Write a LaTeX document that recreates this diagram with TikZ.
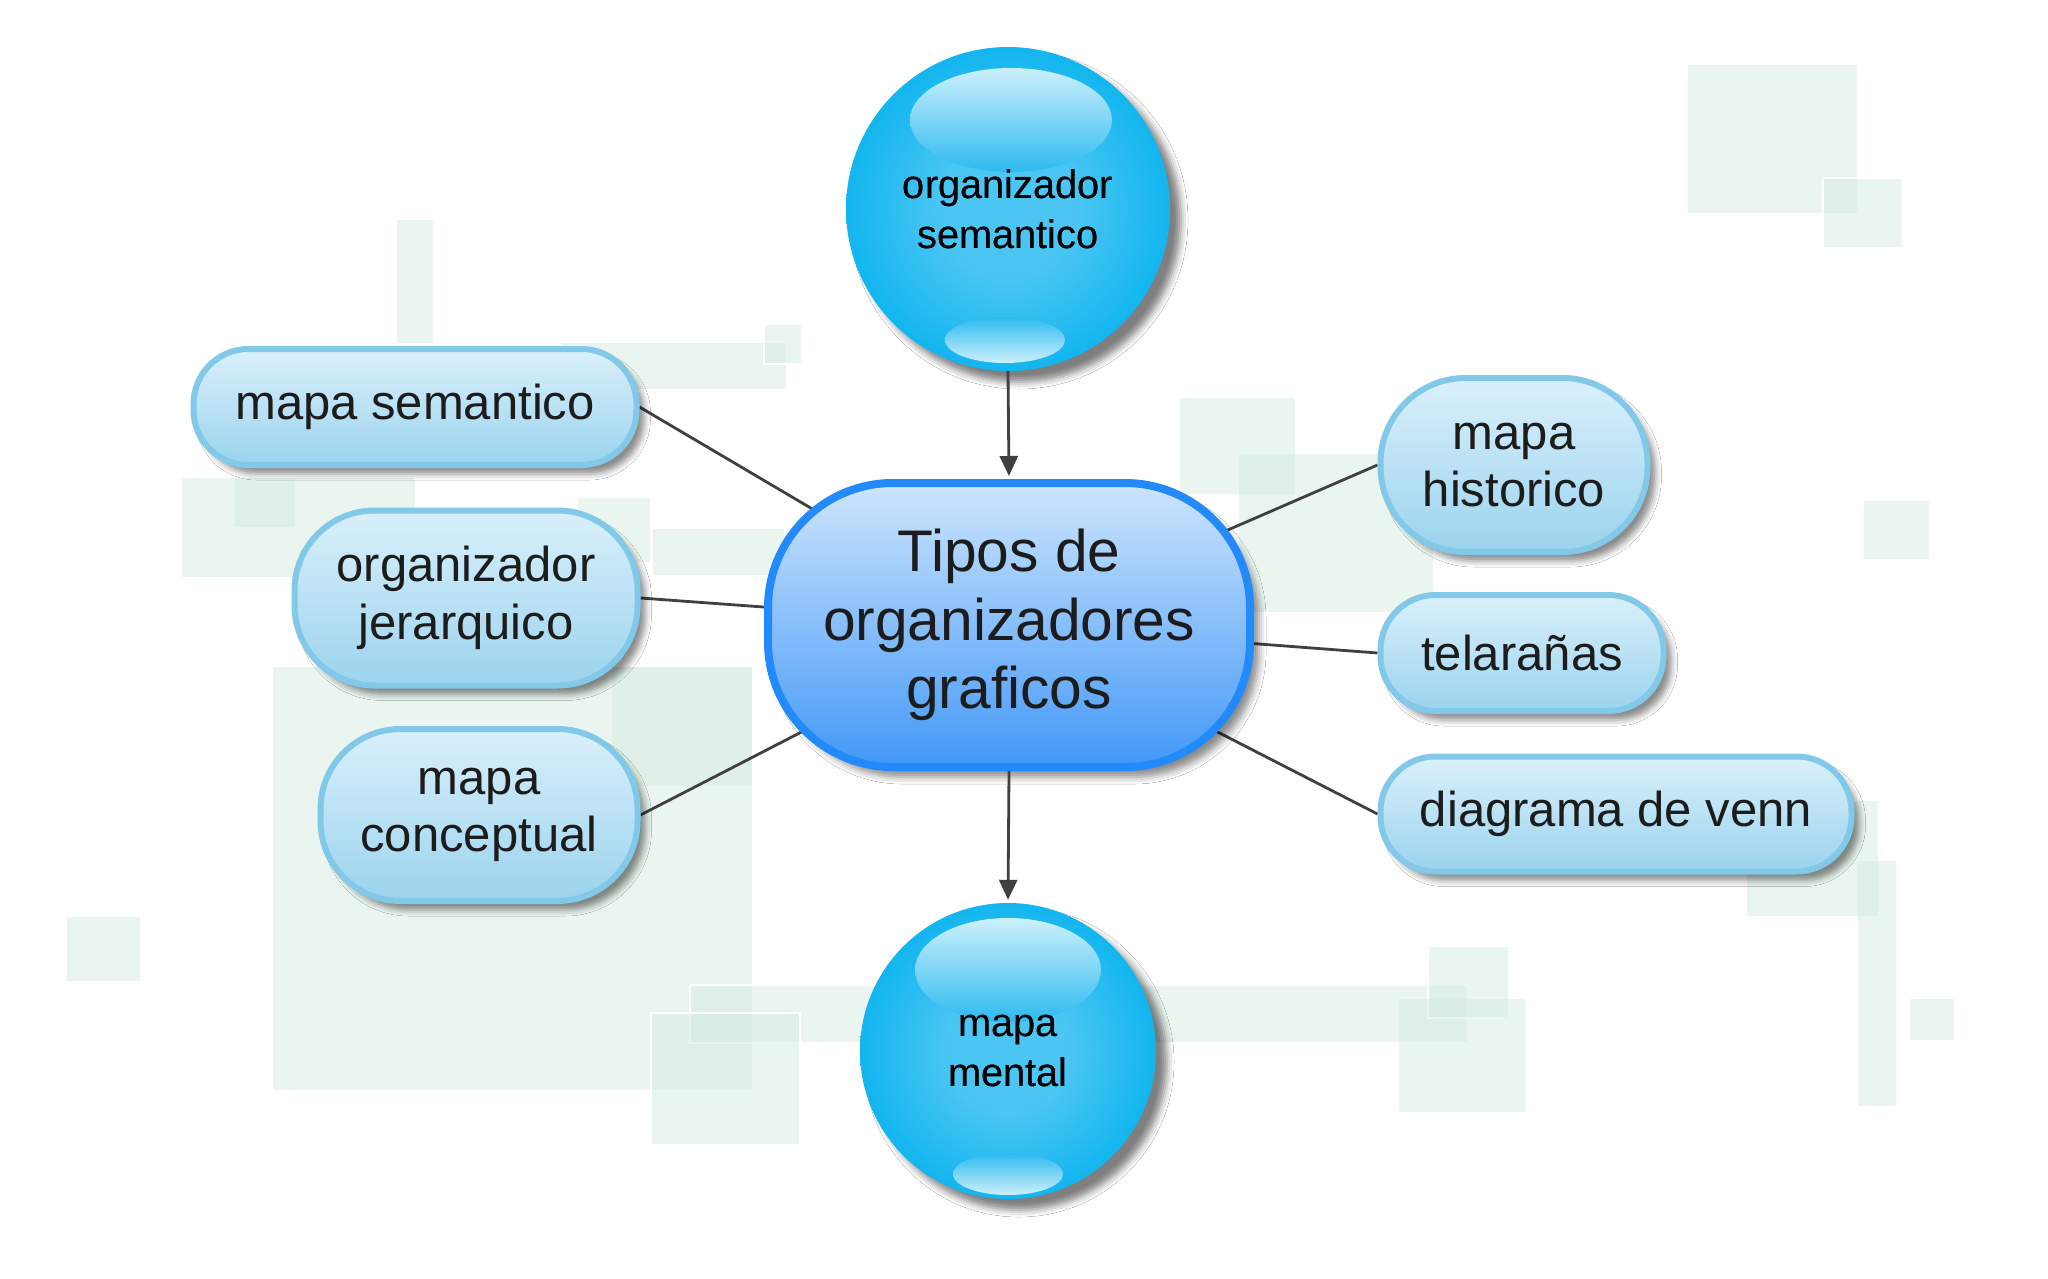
\documentclass[tikz,border=0pt]{standalone}
\usepackage{fontspec}
\setmainfont{Liberation Sans}
\usetikzlibrary{shadows.blur,arrows.meta,calc}
\pgfdeclarelayer{bgsq}
\pgfdeclarelayer{edges}
\pgfsetlayers{bgsq,edges,main}
\definecolor{sq}{RGB}{213,235,222}
\definecolor{cyanout}{RGB}{0,160,230}
\definecolor{cyanmid}{RGB}{0,176,238}
\definecolor{cyanin}{RGB}{75,198,243}
\definecolor{pillborder}{RGB}{130,200,233}
\definecolor{pilltop}{RGB}{218,240,251}
\definecolor{pillbot}{RGB}{155,211,238}
\definecolor{cborder}{RGB}{34,138,250}
\definecolor{ctop}{RGB}{205,229,253}
\definecolor{cbot}{RGB}{66,152,248}
\definecolor{edgecol}{RGB}{64,64,64}
\definecolor{txt}{RGB}{28,28,28}
\definecolor{hltop}{RGB}{205,240,253}
\definecolor{hlbot}{RGB}{45,186,240}
\pgfdeclareradialshading{ballshade}{\pgfpoint{0bp}{0bp}}{color(0bp)=(cyanin); color(10bp)=(cyanin); color(30bp)=(cyanmid); color(50bp)=(cyanout); color(100bp)=(cyanout)}
\tikzset{
  pill/.style={draw=pillborder, line width=6pt, top color=pilltop, bottom color=pillbot,
    inner sep=0pt, align=center, text=txt, font=\fontsize{49}{57.5}\selectfont,
    blur shadow={shadow xshift=8pt, shadow yshift=-9pt, shadow blur radius=6pt, shadow opacity=45}},
  ball/.style={circle, shading=ballshade, inner sep=0pt, text=black, align=center,
    font=\fontsize{39.8}{49.6}\selectfont,
    blur shadow={shadow xshift=11pt, shadow yshift=-11pt, shadow blur radius=7pt, shadow opacity=50}},
  cnode/.style={draw=cborder, line width=8pt, top color=ctop, bottom color=cbot,
    rounded corners=125pt, inner sep=0pt, align=center, text=txt,
    font=\fontsize{58.7}{68.6}\selectfont,
    blur shadow={shadow xshift=9pt, shadow yshift=-10pt, shadow blur radius=7pt, shadow opacity=45}},
  conn/.style={draw=edgecol, line width=2.8pt},
  arr/.style={draw=edgecol, line width=2.8pt, -{Triangle[width=18pt,length=20pt]}, shorten >=3pt},
  bsq/.style={fill=sq, fill opacity=0.48},
  bsqo/.style={fill=sq, fill opacity=0.48, draw=white, line width=2.5pt},
  hlup/.style={top color=hltop, bottom color=hlbot},
  hldown/.style={top color=hlbot, bottom color=hltop}
}
\begin{document}
\begin{tikzpicture}[x=1pt,y=-1pt]
\useasboundingbox (0,0) rectangle (2048,1279);

% nodes
\node[cnode, minimum width=482pt, minimum height=284pt] (c) at (1009,625) {Tipos de\\organizadores\\graficos};
\node[ball, minimum size=324pt] (tc) at (1008,209) {organizador\\semantico};
\node[ball, minimum size=296pt] (bc) at (1008,1051) {mapa\\mental};
\node[pill, minimum width=443pt, minimum height=116pt, rounded corners=55pt] (ms) at (415,407) {mapa semantico};
\node[pill, minimum width=343pt, minimum height=175pt, rounded corners=80pt] (oj) at (466,598) {organizador\\jerarquico};
\node[pill, minimum width=317pt, minimum height=172pt, rounded corners=80pt] (mc) at (479,815) {mapa\\conceptual};
\node[pill, minimum width=267pt, minimum height=174pt, rounded corners=85pt] (mh) at (1514,465) {mapa\\historico};
\node[pill, minimum width=283pt, minimum height=116pt, rounded corners=55pt] (tl) at (1522,653) {telarañas};
\node[pill, minimum width=471pt, minimum height=115pt, rounded corners=55pt] (dv) at (1616,814) {diagrama de venn};

% glossy highlights on the balls
\shade[hlup] ($(tc.center)+(3,-89)$) ellipse [x radius=101pt, y radius=52pt];
\shade[hldown] ($(tc.center)+(-3,131)$) ellipse [x radius=60pt, y radius=23pt];
\shade[hlup] ($(bc.center)+(0,-81)$) ellipse [x radius=93pt, y radius=52pt];
\shade[hldown] ($(bc.center)+(0,123)$) ellipse [x radius=55pt, y radius=21pt];
\node[text=black, align=center, font=\fontsize{39.8}{49.6}\selectfont] at (tc.center) {organizador\\semantico};
\node[text=black, align=center, font=\fontsize{39.8}{49.6}\selectfont] at (bc.center) {mapa\\mental};

% arrows
\draw[arr] (tc.south) -- (c.north);
\draw[arr] (c.south) -- (bc.north);

% connectors
\begin{pgfonlayer}{edges}
\draw[conn] (ms.east) -- (c.center);
\draw[conn] (oj.east) -- (c.center);
\draw[conn] (mc.east) -- (c.center);
\draw[conn] (mh.west) -- (c.center);
\draw[conn] (tl.west) -- (c.center);
\draw[conn] (dv.west) -- (c.center);
\end{pgfonlayer}

% background squares
\begin{pgfonlayer}{bgsq}
\fill[white] (0,0) rectangle (2048,1279);
\fill[bsq] (397,220) rectangle (433,343);
\fill[bsq] (561,343) rectangle (786,389);
\draw[bsqo] (764,324) rectangle (802,364);
\fill[bsq] (182,478) rectangle (415,577);
\fill[bsq] (235,478) rectangle (295,527);
\fill[bsq] (578,498) rectangle (650,562);
\fill[bsq] (653,529) rectangle (784,575);
\fill[bsq] (273,667) rectangle (752,1090);
\fill[bsq] (612,667) rectangle (752,786);
\fill[bsq] (67,917) rectangle (140,981);
\draw[bsqo] (690,985) rectangle (1468,1043);
\draw[bsqo] (651,1013) rectangle (800,1145);
\fill[bsq] (1688,65) rectangle (1857,213);
\draw[bsqo] (1823,178) rectangle (1903,248);
\fill[bsq] (1180,398) rectangle (1295,494);
\fill[bsq] (1239,454) rectangle (1433,612);
\fill[bsq] (1864,501) rectangle (1929,559);
\fill[bsq] (1747,801) rectangle (1878,916);
\fill[bsq] (1858,861) rectangle (1896,1106);
\fill[bsq] (1910,999) rectangle (1954,1040);
\draw[bsqo] (1428,946) rectangle (1509,1018);
\fill[bsq] (1399,999) rectangle (1526,1112);
\end{pgfonlayer}
\end{tikzpicture}
\end{document}
